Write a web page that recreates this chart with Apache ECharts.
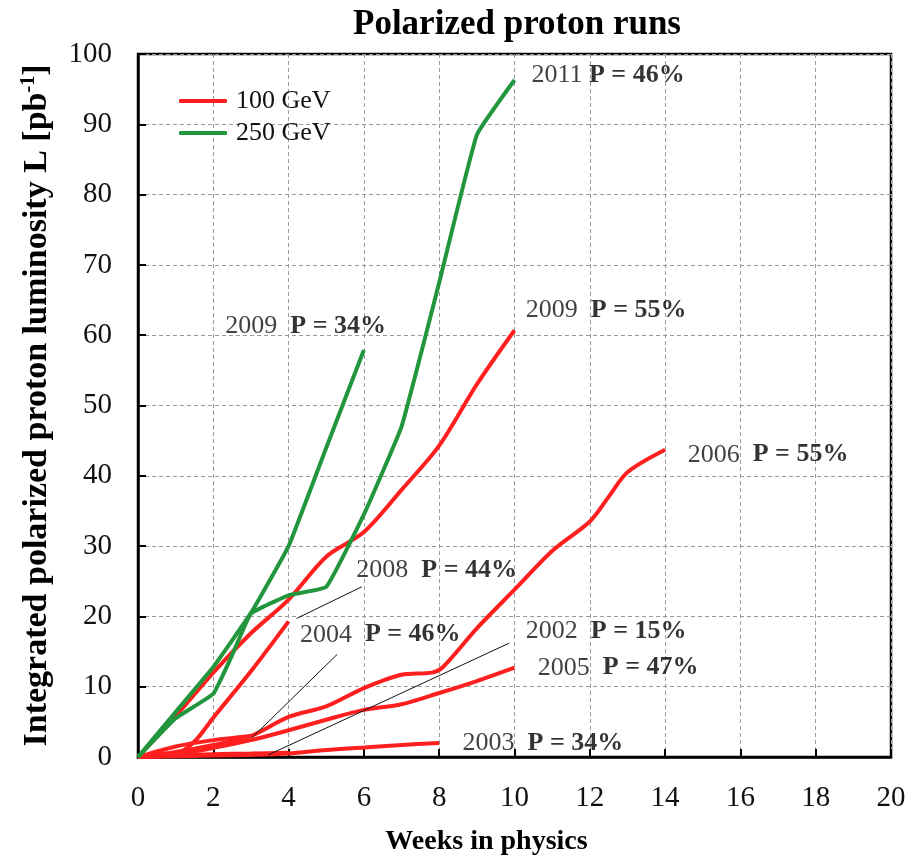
<!DOCTYPE html>
<html>
<head>
<meta charset="utf-8">
<script src="https://cdn.jsdelivr.net/npm/echarts@6/dist/echarts.min.js"></script>
<style>
html,body{margin:0;padding:0;background:#fff;}
#main{width:922px;height:859px;}
</style>
</head>
<body>
<div id="main"></div>
<script>
// ---- data (weeks, integrated luminosity pb^-1) ----
const xTicks = [0, 2, 4, 6, 8, 10, 12, 14, 16, 18, 20];
const yTicks = [0, 10, 20, 30, 40, 50, 60, 70, 80, 90, 100];

const run2011_250 = [[0,0],[1,5.5],[2,9.0],[2.5,14.5],[3,20.4],[4,23.0],[5,24.2],[6,34.5],[7,47.0],[8,67.5],[9,88.5],[10,96.3]];
const run2009_250 = [[0,0],[1,6.4],[2,12.8],[3,20.5],[4,30.0],[5,44.0],[6,57.9]];
const run2009_100 = [[0,0],[1,5.8],[2,12.0],[3,17.6],[4,22.4],[5,28.5],[6,32.0],[7,38.0],[8,44.3],[9,53.0],[10,60.7]];
const run2008_100 = [[0,0],[1,0.4],[1.5,2.2],[2,5.6],[3,12.2],[4,19.3]];
const run2006_100 = [[0,0],[1,0.7],[2,1.7],[3,3.0],[4,5.7],[5,7.2],[6,9.8],[7,11.7],[7.8,12.0],[8.1,12.8],[9,18.3],[10,23.8],[11,29.3],[12,33.5],[12.5,37.0],[13,40.5],[14,43.7]];
const run2005_100 = [[0,0],[1,0.4],[2,1.3],[3,2.4],[4,3.8],[5,5.3],[6,6.7],[7,7.5],[8,9.1],[9,10.8],[10,12.7]];
const run2004_100 = [[0,0],[1,1.5],[2,2.4],[3,3.0]];
const run2003_100 = [[0,0],[1,0.1],[2,0.2],[3,0.3],[4,0.5],[5,1.0],[6,1.35],[7,1.7],[8,2.0]];
const run2002_100 = [[0,0],[1,0.2],[2,0.4],[3,0.5],[4,0.6]];

// annotation labels: year, polarization, anchor x, anchor y
const annYears = ['2011', '2009', '2006', '2009', '2008', '2004', '2002', '2005', '2003'];
const annPol   = ['P = 46%', 'P = 55%', 'P = 55%', 'P = 34%', 'P = 44%', 'P = 46%', 'P = 15%', 'P = 47%', 'P = 34%'];
const annX     = [10.45, 10.3, 14.6, 2.32, 5.8, 4.3, 10.3, 10.62, 8.62];
const annY     = [97.0, 63.6, 43.0, 61.3, 26.6, 17.4, 17.9, 12.7, 2.0];
const annGap   = [' ', '  ', '  ', '  ', '  ', '  ', '  ', '  ', '  '];

// leader lines (from curve to label)
const leader2008 = [[4.21,19.7],[5.94,24.2]];
const leader2004 = [[3.02,2.7],[5.29,14.6]];
const leader2002 = [[3.46,0.3],[9.86,16.2]];

const RED = '#ff1f1f';
const GREEN = '#22963c';
const SERIF = '"Liberation Serif", "DejaVu Serif", serif';

function curve(name, data, color, smooth) {
  return {
    type: 'line', name: name, data: data,
    showSymbol: false, symbol: 'none',
    smooth: smooth,
    lineStyle: { color: color, width: 4 },
    itemStyle: { color: color },
    z: 3, silent: true
  };
}
function leader(data) {
  return {
    type: 'line', name: 'leader', data: data,
    showSymbol: false, symbol: 'none',
    lineStyle: { color: '#111', width: 1 },
    z: 4, silent: true
  };
}

const annData = annX.map((x, i) => ({ value: [x, annY[i]], year: annYears[i], pol: annPol[i], gap: annGap[i] }));

const chart = echarts.init(document.getElementById('main'), null, { renderer: 'canvas' });
chart.setOption({
  animation: false,
  backgroundColor: '#fff',
  title: {
    text: 'Polarized proton runs',
    left: 512, top: 2, textAlign: 'center',
    textStyle: { fontFamily: SERIF, fontWeight: 'bold', fontSize: 35, color: '#000' }
  },
  legend: {
    data: [
      { name: '100 GeV', icon: 'roundRect', itemStyle: { color: RED } },
      { name: '250 GeV', icon: 'roundRect', itemStyle: { color: GREEN } }
    ],
    orient: 'vertical',
    left: 174, top: 83,
    itemWidth: 48, itemHeight: 4, itemGap: 6,
    textStyle: { fontFamily: SERIF, fontSize: 26, color: '#111', padding: [0, 0, 0, 4], lineHeight: 25 },
    selectedMode: false
  },
  grid: {
    left: 138, right: 31, top: 54, bottom: 102,
    outerBoundsMode: 'none', containLabel: false,
    show: true, borderColor: '#000', borderWidth: 2.5, backgroundColor: 'transparent'
  },
  xAxis: {
    type: 'value', min: 0, max: 20, interval: 2,
    name: 'Weeks in physics', nameLocation: 'middle', nameGap: 71,
    nameTextStyle: { fontFamily: SERIF, fontWeight: 'bold', fontSize: 28, color: '#000', padding: [0, 56, 0, 0] },
    axisLine: { show: true, lineStyle: { color: '#000', width: 2.5 } },
    axisTick: { show: true, inside: true, length: 8, lineStyle: { color: '#000', width: 2 } },
    axisLabel: { margin: 27, fontFamily: SERIF, fontSize: 29, color: '#111',
      formatter: v => xTicks.includes(v) ? String(v) : '' },
    splitLine: { show: true, lineStyle: { color: '#9a9a9a', width: 1, type: [4, 3] } }
  },
  yAxis: {
    type: 'value', min: 0, max: 100, interval: 10,
    name: '{n|Integrated polarized proton luminosity L [pb}{s|-1}{n|]}',
    nameLocation: 'middle', nameGap: 81, nameRotate: 90,
    nameTextStyle: {
      rich: {
        n: { fontFamily: SERIF, fontWeight: 'bold', fontSize: 34, color: '#000', lineHeight: 40 },
        s: { fontFamily: SERIF, fontWeight: 'bold', fontSize: 20, color: '#000', padding: [0, 0, 17, 0], lineHeight: 40 }
      }
    },
    axisLine: { show: true, lineStyle: { color: '#000', width: 2.5 } },
    axisTick: { show: true, inside: true, length: 8, lineStyle: { color: '#000', width: 2 } },
    axisLabel: { margin: 26, fontFamily: SERIF, fontSize: 29, color: '#111',
      formatter: v => yTicks.includes(v) ? String(v) : '' },
    splitLine: { show: true, lineStyle: { color: '#9a9a9a', width: 1, type: [4, 3] } }
  },
  series: [
    curve('100 GeV', run2002_100, RED, 0.3),
    curve('100 GeV', run2003_100, RED, 0.3),
    curve('100 GeV', run2004_100, RED, 0.3),
    curve('100 GeV', run2005_100, RED, 0.3),
    curve('100 GeV', run2006_100, RED, 0.3),
    curve('100 GeV', run2008_100, RED, 0.3),
    curve('100 GeV', run2009_100, RED, 0.3),
    curve('250 GeV', run2009_250, GREEN, 0.1),
    curve('250 GeV', run2011_250, GREEN, 0.1),
    leader(leader2008),
    leader(leader2004),
    leader(leader2002),
    {
      type: 'scatter', name: 'annotations', data: annData,
      symbolSize: 0, silent: true, z: 5,
      label: {
        show: true, position: 'right', distance: 0,
        formatter: p => '{y|' + p.data.year + '}' + p.data.gap + '{p|' + p.data.pol + '}',
        fontFamily: SERIF, fontSize: 26, color: '#111',
        rich: {
          y: { fontFamily: SERIF, fontSize: 26, color: '#111' },
          p: { fontFamily: SERIF, fontSize: 26, fontWeight: 'bold', color: '#000' }
        }
      }
    }
  ]
});
</script>
</body>
</html>
